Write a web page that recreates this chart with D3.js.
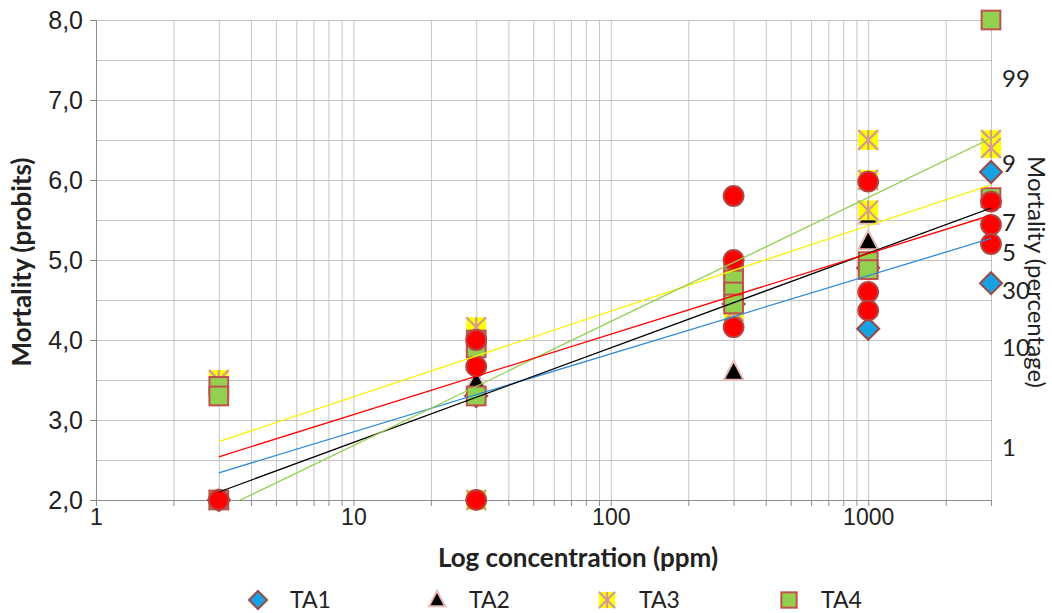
<!DOCTYPE html>
<html>
<head>
<meta charset="utf-8">
<script src="https://cdn.jsdelivr.net/npm/d3@7"></script>
<style>
  body { margin: 0; background: #fff; }
  svg { display: block; font-family: Lato, 'Liberation Sans', sans-serif; }
</style>
</head>
<body>
<svg width="1052" height="613"></svg>
<script>
// points are [concentration (ppm), mortality (probit)]
let ta1 = [[3, 2.0], [30, 3.3], [300, 4.45], [1000, 4.9], [1000, 4.14], [3000, 6.1], [3000, 4.71]]
let ta2 = [[3, 2.0], [30, 3.48], [300, 3.6], [1000, 5.55], [1000, 5.23], [3000, 5.29]]
let ta3 = [[3, 3.5], [3, 2.0], [30, 4.16], [30, 2.0], [300, 4.36], [1000, 6.5], [1000, 6.0], [1000, 5.62], [3000, 6.5], [3000, 6.4]]
let ta4 = [[3, 3.42], [3, 3.3], [3, 2.0], [30, 4.0], [30, 3.9], [30, 3.3], [300, 4.9], [300, 4.75], [300, 4.6], [300, 4.45], [1000, 4.98], [1000, 4.88], [3000, 8.0], [3000, 5.78]]
let ta5 = [[3, 2.0], [30, 4.0], [30, 3.67], [30, 2.0], [300, 5.8], [300, 5.0], [300, 4.16], [1000, 5.98], [1000, 4.6], [1000, 4.37], [3000, 5.73], [3000, 5.44], [3000, 5.2]]

// logarithmic trendlines, value at 3 ppm and at 3000 ppm
let trendX = [3, 3000]
let trendTA1 = [2.34, 5.27]
let trendTA2 = [2.1, 5.65]
let trendTA3 = [2.73, 5.94]
let trendTA4 = [1.87, 6.52]
let trendTA5 = [2.54, 5.56]

let legendNames = ['TA1', 'TA2', 'TA3', 'TA4']

// secondary axis (percentage), placed at probit positions
let pctLabels = ['1', '10', '30', '5', '7', '9', '99']
let pctProbits = [2.66, 3.91, 4.62, 5.09, 5.47, 6.21, 7.27]

let width = 1052
let height = 613
let margin = { top: 20, bottom: 113, left: 96, right: 61 }

let series = [
  { name: 'TA1', points: ta1, trend: trendTA1, shape: 'diamond', line: '#2f8ad6' },
  { name: 'TA2', points: ta2, trend: trendTA2, shape: 'triangle', line: '#000000' },
  { name: 'TA3', points: ta3, trend: trendTA3, shape: 'star', line: '#f5f500' },
  { name: 'TA4', points: ta4, trend: trendTA4, shape: 'square', line: '#92d050' },
  { name: 'TA5', points: ta5, trend: trendTA5, shape: 'circle', line: '#ff0000' }
]

let xScale = d3.scaleLog()
  .domain([1, 3000])
  .range([margin.left, width - margin.right])

let yScale = d3.scaleLinear()
  .domain([2, 8])
  .range([height - margin.bottom, margin.top])

let svg = d3.select('svg')

// all log ticks 1..3000
let xTicks = []
for (let p = 1; p <= 1000; p *= 10) {
  for (let k = 1; k <= 9; k++) {
    if (k * p <= 3000) xTicks.push(k * p)
  }
}

// grid
svg.append('g')
  .attr('transform', 'translate(' + [0, height - margin.bottom] + ')')
  .call(d3.axisBottom(xScale).tickValues(xTicks).tickSize(-(height - margin.top - margin.bottom)).tickFormat(''))
  .call(g => g.select('.domain').remove())
  .call(g => g.selectAll('line').attr('stroke', '#c4c4c4'))

svg.append('g')
  .attr('transform', 'translate(' + [margin.left, 0] + ')')
  .call(d3.axisLeft(yScale).tickValues(d3.range(2, 8.01, 0.5)).tickSize(-(width - margin.left - margin.right)).tickFormat(''))
  .call(g => g.select('.domain').remove())
  .call(g => g.selectAll('line').attr('stroke', '#c4c4c4'))

// x axis
let xAxis = svg.append('g')
  .attr('transform', 'translate(' + [0, height - margin.bottom] + ')')
  .call(d3.axisBottom(xScale).tickValues(xTicks).tickSize(6).tickPadding(3)
    .tickFormat(d => [1, 10, 100, 1000].includes(d) ? d : ''))
xAxis.select('.domain').attr('stroke', '#8c8c8c')
xAxis.selectAll('line').attr('stroke', '#8c8c8c')
xAxis.selectAll('text').attr('font-size', 23).attr('fill', '#222')

// y axis
let yAxis = svg.append('g')
  .attr('transform', 'translate(' + [margin.left, 0] + ')')
  .call(d3.axisLeft(yScale).tickValues(d3.range(2, 8.01, 1)).tickSize(6).tickPadding(7)
    .tickFormat(d => d3.format('.1f')(d).replace('.', ',')))
yAxis.select('.domain').attr('stroke', '#8c8c8c')
yAxis.selectAll('line').attr('stroke', '#8c8c8c')
yAxis.selectAll('text').attr('font-size', 25).attr('fill', '#222')

// secondary labels
svg.append('g').selectAll('text')
  .data(pctLabels)
  .enter()
  .append('text')
  .attr('x', 1002)
  .attr('y', (d, i) => yScale(pctProbits[i]))
  .attr('dy', '0.35em')
  .attr('font-size', 24)
  .attr('fill', '#222')
  .text(d => d)

// titles
svg.append('text')
  .attr('x', 578)
  .attr('y', 567)
  .attr('text-anchor', 'middle')
  .attr('font-size', 26)
  .attr('font-weight', 'bold')
  .attr('fill', '#222')
  .text('Log concentration (ppm)')

svg.append('text')
  .attr('transform', 'translate(' + [31, 262] + ') rotate(-90)')
  .attr('text-anchor', 'middle')
  .attr('font-size', 26)
  .attr('font-weight', 'bold')
  .attr('fill', '#222')
  .text('Mortality (probits)')

svg.append('text')
  .attr('transform', 'translate(' + [1028, 272] + ') rotate(90)')
  .attr('text-anchor', 'middle')
  .attr('font-size', 24)
  .attr('fill', '#222')
  .text('Mortality (percentage)')

function drawMarker(g, shape, s) {
  if (shape === 'diamond') {
    g.append('path')
      .attr('d', 'M0,' + (-s) + 'L' + s + ',0L0,' + s + 'L' + (-s) + ',0Z')
      .attr('fill', '#17a2e3').attr('stroke', '#984a45').attr('stroke-width', 2)
  } else if (shape === 'triangle') {
    g.append('path')
      .attr('d', 'M0,' + (-s) + 'L' + (s * 0.9) + ',' + (s * 0.7) + 'L' + (-s * 0.9) + ',' + (s * 0.7) + 'Z')
      .attr('fill', '#000').attr('stroke', '#e8bcbb').attr('stroke-width', 2)
  } else if (shape === 'star') {
    let h = s * 0.9
    g.append('rect').attr('x', -h).attr('y', -h).attr('width', 2 * h).attr('height', 2 * h).attr('fill', '#ffff00')
    g.append('path')
      .attr('d', 'M' + (-h) + ',' + (-h) + 'L' + h + ',' + h + 'M' + h + ',' + (-h) + 'L' + (-h) + ',' + h + 'M0,' + (-h) + 'L0,' + h)
      .attr('stroke', '#d59c8f').attr('stroke-width', 2.2).attr('fill', 'none')
  } else if (shape === 'square') {
    let h = s * 0.85
    g.append('rect').attr('x', -h).attr('y', -h).attr('width', 2 * h).attr('height', 2 * h)
      .attr('fill', '#92d050').attr('stroke', '#c0504d').attr('stroke-width', 2)
  } else {
    g.append('circle').attr('r', s * 0.9)
      .attr('fill', '#ff0000').attr('stroke', '#b5443f').attr('stroke-width', 2)
  }
}

// markers
series.forEach(sr => {
  let g = svg.append('g')
  sr.points.forEach(p => {
    let m = g.append('g').attr('transform', 'translate(' + [xScale(p[0]), yScale(p[1])] + ')')
    drawMarker(m, sr.shape, 11)
  })
})

// trendlines, clipped to the plot area
svg.append('clipPath').attr('id', 'plot')
  .append('rect')
  .attr('x', margin.left).attr('y', margin.top)
  .attr('width', width - margin.left - margin.right)
  .attr('height', height - margin.top - margin.bottom)

let line = d3.line()
  .x((d, i) => xScale(trendX[i]))
  .y(d => yScale(d))

svg.append('g').attr('clip-path', 'url(#plot)')
  .selectAll('path')
  .data(series)
  .enter()
  .append('path')
  .attr('d', d => line(d.trend))
  .attr('fill', 'none')
  .attr('stroke', d => d.line)
  .attr('stroke-width', 1.3)

// legend
let legendX = [258, 437, 607, 789]
let lg = svg.append('g')
legendNames.forEach((name, i) => {
  let m = lg.append('g').attr('transform', 'translate(' + [legendX[i], 600] + ')')
  drawMarker(m, series[i].shape, 9)
  lg.append('text')
    .attr('x', legendX[i] + 32)
    .attr('y', 600)
    .attr('dy', '0.35em')
    .attr('font-size', 23)
    .attr('fill', '#222')
    .text(name)
})
</script>
</body>
</html>
